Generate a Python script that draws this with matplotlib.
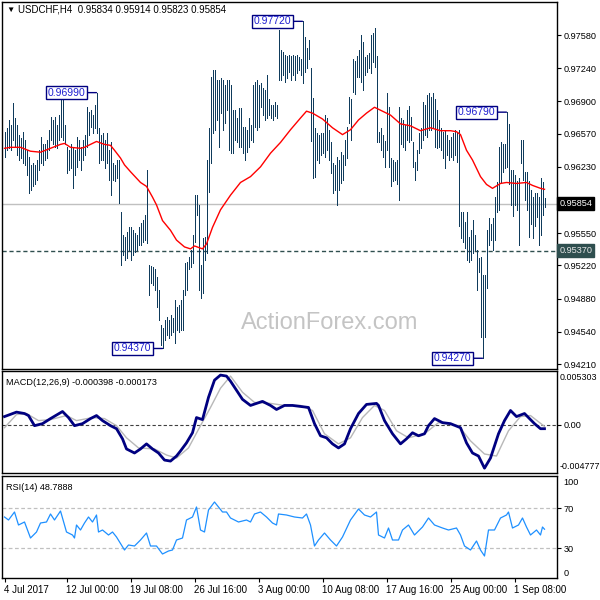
import numpy as np
import matplotlib.pyplot as plt

plt.rcParams['font.family'] = ['Liberation Sans', 'DejaVu Sans']
plt.rcParams['font.size'] = 7

# H4 bars, high / low in pips (price * 10000)
high_pips = [
    9659, 9663, 9671, 9666, 9688, 9673, 9666, 9656, 9653, 9659,
    9651, 9640, 9633, 9625, 9627, 9625, 9630, 9640, 9654, 9646,
    9646, 9651, 9661, 9674, 9671, 9674, 9666, 9676, 9692, 9695,
    9666, 9643, 9640, 9646, 9642, 9640, 9654, 9651, 9643, 9651,
    9656, 9684, 9679, 9681, 9676, 9686, 9699, 9663, 9656, 9658,
    9651, 9658, 9640, 9648, 9627, 9625, 9630, 9630, 9577, 9553,
    9551, 9556, 9561, 9561, 9558, 9555, 9553, 9561, 9566, 9569,
    9574, 9620, 9523, 9521, 9520, 9518, 9510, 9497, 9461, 9458,
    9466, 9469, 9466, 9471, 9468, 9487, 9479, 9482, 9487, 9497,
    9525, 9526, 9531, 9538, 9553, 9594, 9594, 9584, 9523, 9550,
    9551, 9630, 9663, 9715, 9722, 9722, 9712, 9712, 9714, 9712,
    9707, 9712, 9712, 9707, 9681, 9681, 9673, 9683, 9683, 9664,
    9664, 9661, 9673, 9666, 9707, 9710, 9712, 9707, 9709, 9704,
    9702, 9717, 9692, 9686, 9686, 9689, 9686, 9763, 9743, 9741,
    9738, 9736, 9738, 9736, 9738, 9737, 9738, 9735, 9733, 9772,
    9756, 9745, 9753, 9724, 9694, 9663, 9658, 9656, 9658, 9658,
    9676, 9673, 9661, 9648, 9627, 9625, 9633, 9630, 9638, 9635,
    9651, 9664, 9695, 9692, 9733, 9731, 9736, 9743, 9758, 9751,
    9735, 9738, 9740, 9758, 9760, 9765, 9736, 9659, 9663, 9656,
    9649, 9699, 9684, 9632, 9630, 9628, 9630, 9684, 9673, 9671,
    9666, 9681, 9685, 9674, 9648, 9628, 9640, 9658, 9663, 9689,
    9686, 9697, 9699, 9695, 9699, 9692, 9681, 9671, 9663, 9659,
    9661, 9656, 9651, 9654, 9658, 9661, 9659, 9661, 9577, 9577,
    9567, 9577, 9551, 9558, 9569, 9553, 9538, 9530, 9531, 9512,
    9512, 9558, 9571, 9564, 9571, 9592, 9607, 9643, 9648, 9646,
    9646, 9679, 9667, 9620, 9620, 9615, 9609, 9612, 9651, 9651,
    9618, 9618, 9608, 9599, 9592, 9596, 9596, 9592, 9612, 9607,
    9591.4]
low_pips = [
    9633, 9640, 9642, 9640, 9651, 9643, 9635, 9630, 9632, 9627,
    9625, 9615, 9596, 9599, 9603, 9605, 9610, 9620, 9627, 9625,
    9630, 9632, 9640, 9651, 9646, 9643, 9642, 9651, 9654, 9651,
    9646, 9617, 9620, 9622, 9601, 9615, 9623, 9630, 9620, 9630,
    9635, 9643, 9656, 9664, 9658, 9663, 9658, 9627, 9630, 9630,
    9622, 9627, 9610, 9594, 9610, 9608, 9612, 9586, 9523, 9533,
    9528, 9530, 9538, 9528, 9533, 9536, 9538, 9543, 9543, 9546,
    9548, 9545, 9492, 9504, 9502, 9497, 9479, 9466, 9441, 9437,
    9446, 9451, 9448, 9451, 9454, 9443, 9456, 9454, 9456, 9456,
    9492, 9497, 9518, 9520, 9525, 9546, 9574, 9497, 9489, 9494,
    9528, 9535, 9597, 9627, 9658, 9661, 9671, 9643, 9678, 9661,
    9668, 9681, 9640, 9637, 9637, 9651, 9648, 9643, 9643, 9637,
    9630, 9638, 9643, 9651, 9648, 9664, 9661, 9664, 9684, 9676,
    9671, 9673, 9676, 9673, 9671, 9675, 9673, 9712, 9712, 9717,
    9710, 9714, 9720, 9712, 9717, 9712, 9719, 9722, 9717, 9709,
    9720, 9724, 9733, 9649, 9612, 9613, 9630, 9627, 9635, 9637,
    9633, 9640, 9630, 9617, 9596, 9599, 9584, 9599, 9606, 9610,
    9625, 9632, 9668, 9651, 9700, 9698, 9715, 9715, 9710, 9702,
    9717, 9720, 9724, 9719, 9730, 9725, 9648, 9648, 9640, 9633,
    9623, 9640, 9623, 9603, 9608, 9610, 9605, 9589, 9646, 9643,
    9640, 9651, 9648, 9651, 9623, 9610, 9620, 9637, 9642, 9651,
    9656, 9654, 9661, 9661, 9664, 9643, 9642, 9643, 9640, 9632,
    9622, 9635, 9630, 9633, 9630, 9635, 9628, 9562, 9550, 9546,
    9540, 9528, 9526, 9528, 9535, 9538, 9497, 9515, 9449, 9427,
    9449, 9499, 9543, 9548, 9538, 9548, 9577, 9579, 9607, 9618,
    9622, 9623, 9605, 9584, 9573, 9584, 9579, 9543, 9627, 9610,
    9589, 9579, 9551, 9564, 9550, 9562, 9572, 9543, 9553, 9574,
    9582.3]

# red moving average, read at sample bars
ma_idx = [0, 3, 8, 13, 18, 23, 28, 30, 33, 38, 40, 43, 46, 50, 53, 55, 58, 60, 63, 68,
          71, 74, 76, 79, 83, 86, 90, 93, 95, 99, 101, 104, 108, 113, 118, 123, 128, 133, 138, 143,
          148, 151, 154, 159, 164, 169, 173, 177, 181, 185, 189, 193, 198, 203, 208, 213, 218, 223, 226, 228,
          231, 234, 238, 241, 244, 248, 251, 256, 261, 264, 268, 270]
ma_pips = [9642, 9643, 9643, 9639, 9638, 9642, 9646, 9647, 9643, 9642, 9643, 9646, 9649, 9646, 9645, 9640, 9632, 9625, 9618, 9607,
           9603, 9592, 9584, 9568, 9558, 9548, 9541, 9539, 9542, 9539, 9544, 9561, 9579, 9594, 9607, 9613, 9623, 9637, 9648, 9661,
           9673, 9680, 9678, 9672, 9663, 9656, 9661, 9671, 9678, 9684, 9680, 9676, 9667, 9665, 9660, 9663, 9660, 9660, 9659, 9656,
           9640, 9630, 9613, 9605, 9601, 9606, 9607, 9606, 9607, 9604, 9601, 9600]

# MACD(12,26,9), values in 1e-4
macd_idx = [0, 6, 10, 12, 15, 19, 23, 29, 32, 35, 39, 43, 46, 49, 53, 56, 59, 61, 65, 68,
            71, 74, 77, 80, 83, 86, 88, 91, 94, 96, 99, 102, 105, 108, 111, 113, 116, 119, 123, 126,
            129, 133, 136, 140, 144, 148, 152, 155, 158, 161, 164, 167, 170, 173, 177, 181, 186, 187, 190, 194,
            198, 201, 204, 207, 210, 212, 215, 219, 223, 228, 231, 234, 237, 240, 243, 247, 250, 253, 256, 260,
            262, 265, 268, 270]
macd_main = [8, 12.4, 11, 9, -1, 1, 6, 13, 7, -1, 1, 6, 9, 4, -1, -4, -14, -24, -28, -24,
             -19, -24, -28, -35, -36, -31, -26, -18, -8, 7, 5, 27, 44, 49, 48, 43, 34, 25, 19, 21,
             23, 19, 15, 19, 19, 18, 17, 1, -11, -13, -19, -23, -19, -4, 11, 20, 21, 19, 4, -9,
             -19, -14, -8, -11, -9, -1, 6, 2, 1, -3, -18, -28, -31, -43, -33, -9, 4, 14, 8, 11,
             7, 1, -4, -3.98]
sig_idx = [0, 6, 11, 17, 23, 31, 36, 44, 50, 56, 61, 67, 75, 81, 86, 92, 98, 103, 108, 113,
           119, 125, 133, 140, 148, 154, 160, 167, 173, 179, 185, 190, 196, 202, 210, 217, 227, 233, 240, 246,
           252, 258, 263, 270]
macd_sig = [-3, 10, 11, 4, 5, 9, 4, 7, 6, -1, -13, -23, -24, -30, -33, -23, -1, 17, 36, 48,
            32, 22, 21, 19, 19, 14, -9, -19, -13, 7, 19, 14, -6, -13, -9, 2, -1, -16, -29, -31,
            -6, 8, 9, -1.73]

# RSI(14)
rsi_idx = [0, 2, 5, 7, 10, 13, 16, 18, 21, 23, 25, 28, 31, 34, 35, 36, 38, 40, 42, 44,
           46, 47, 49, 52, 54, 56, 60, 62, 65, 68, 71, 73, 76, 79, 82, 84, 86, 89, 91, 94,
           96, 98, 100, 102, 105, 107, 109, 111, 113, 117, 121, 123, 125, 128, 131, 134, 136, 137, 141, 145,
           149, 151, 153, 155, 157, 160, 163, 166, 169, 173, 177, 180, 183, 186, 187, 190, 192, 194, 197, 199,
           202, 205, 209, 212, 215, 219, 222, 226, 228, 230, 233, 236, 238, 240, 242, 245, 248, 251, 252, 254,
           257, 259, 261, 263, 266, 268, 269, 270]
rsi_val = [61, 58, 66, 53, 56, 40, 46, 55, 56, 64, 58, 67, 46, 43, 40, 53, 48, 55, 61, 56,
           63, 46, 48, 43, 46, 41, 28, 33, 32, 38, 45, 32, 32, 24, 27, 28, 38, 40, 58, 61,
           71, 48, 46, 68, 76, 71, 66, 66, 60, 56, 58, 56, 64, 66, 61, 55, 53, 64, 63, 61,
           60, 64, 53, 32, 38, 45, 38, 32, 41, 58, 69, 63, 61, 66, 43, 40, 50, 38, 38, 48,
           53, 43, 51, 60, 53, 50, 48, 50, 43, 32, 28, 37, 28, 22, 48, 48, 60, 63, 66, 50,
           53, 60, 51, 43, 48, 43, 51, 48.7888]

price_ticks = [0.97580, 0.97240, 0.96900, 0.96570, 0.96230, 0.95890,
               0.95550, 0.95220, 0.94880, 0.94540, 0.94210]
date_idx = [0, 31, 63, 95, 127, 159, 191, 223, 255]
date_lbl = ['4 Jul 2017', '12 Jul 00:00', '19 Jul 08:00', '26 Jul 16:00', '3 Aug 00:00',
            '10 Aug 08:00', '17 Aug 16:00', '25 Aug 00:00', '1 Sep 08:00']
last_ohlc = [0.95834, 0.95914, 0.95823, 0.95854]
level = 0.95370
# (bar, 'h' or 'l') marked with a price box
marks = [(46, 'h'), (149, 'h'), (251, 'h'), (79, 'l'), (239, 'l')]

high = np.array(high_pips) / 1e4
low = np.array(low_pips) / 1e4
ma = np.array(ma_pips) / 1e4
macd_m = np.array(macd_main) / 1e4
macd_s = np.array(macd_sig) / 1e4

bar_col = '#0f3b5c'
navy = '#000080'

fig = plt.figure(figsize=(6, 6), dpi=100)
ax = fig.add_axes([2/600, 231/600, 555/600, 367/600])
ax2 = fig.add_axes([2/600, 127/600, 555/600, 102/600])
ax3 = fig.add_axes([2/600, 22/600, 555/600, 102/600])

for a in (ax, ax2, ax3):
    # 2 px per bar, bar centred on a pixel
    a.set_xlim(-1.25, 276.25)
    a.yaxis.tick_right()
    a.tick_params(axis='y', direction='out', length=3, width=0.8, pad=2, labelsize=6.6)
    for s in a.spines.values():
        s.set_color('black')
        s.set_linewidth(1)
    a.set_xticks([])

# ---- price panel
idx = np.arange(len(high))
ax.vlines(idx, low, high, color=bar_col, lw=0.5, antialiased=False)
ax.plot(ma_idx, ma, color='red', lw=1)
ax.axhline(last_ohlc[3], color='#c0c0c0', lw=1, zorder=0)
ax.axhline(level, color='#2f4f4f', lw=1, ls=(0, (3, 2)), zorder=0)
ax.set_ylim(0.94160, 0.97918)
ax.set_yticks(price_ticks)
# the tick next to the current price is covered by the price box
ax.set_yticklabels(['' if abs(p - last_ohlc[3]) < 0.0006 else f'{p:.5f}' for p in price_ticks])

for i, kind in marks:
    p = high[i] if kind == 'h' else low[i]
    ax.annotate(f'{p:.5f}', xy=(i, p), xytext=(i - 5.5, p), ha='right', va='center',
                color='#1f1fd0', fontsize=7.5,
                bbox=dict(boxstyle='square,pad=0.15', fc='white', ec=navy, lw=1),
                arrowprops=dict(arrowstyle='-', color=navy, lw=1, shrinkA=0, shrinkB=0))

yt = ax.get_yaxis_transform()
ax.text(1.004, last_ohlc[3], f'{last_ohlc[3]:.5f}', transform=yt, ha='left', va='center',
        color='white', fontsize=6.6, zorder=6, clip_on=False,
        bbox=dict(boxstyle='square,pad=0.22', fc='black', ec='black'))
ax.text(1.004, level, f'{level:.5f}', transform=yt, ha='left', va='center',
        color='#e8e8e8', fontsize=6.6, zorder=6, clip_on=False,
        bbox=dict(boxstyle='square,pad=0.22', fc='#2f4f4f', ec='#2f4f4f'))
ax.text(0.59, 0.125, 'ActionForex.com', transform=ax.transAxes, fontsize=17,
        color='#c4c4c4', ha='center', va='center', zorder=0)

fig.text(6/600, 1 - 10/600, '\u25bc', fontsize=6, va='center', ha='left')
fig.text(18/600, 1 - 10/600, 'USDCHF,H4  ' + ' '.join(f'{v:.5f}' for v in last_ohlc),
         fontsize=7, va='center', ha='left')

# ---- MACD panel
ax2.set_ylim(-0.004777, 0.005303)
ax2.axhline(0, color='#404040', lw=0.8, ls=(0, (3, 2)))
ax2.plot(sig_idx, macd_s, color='#b8b8b8', lw=1)
ax2.plot(macd_idx, macd_m, color=navy, lw=2)
ax2.set_yticks([0])
ax2.set_yticklabels(['0.00'])
ax2.text(1.005, 0.985, '0.005303', transform=ax2.transAxes, ha='left', va='top', fontsize=6.4)
ax2.text(1.005, 0.02, '-0.004777', transform=ax2.transAxes, ha='left', va='bottom', fontsize=6.4)
ax2.text(0.008, 0.93, f'MACD(12,26,9) {macd_main[-1]/1e4:.6f} {macd_sig[-1]/1e4:.6f}',
         transform=ax2.transAxes, ha='left', va='top', fontsize=6.6)

# ---- RSI panel
ax3.set_ylim(0, 102)
for lv in (70, 30):
    ax3.axhline(lv, color='#c0c0c0', lw=0.9, ls=(0, (3, 2)))
ax3.plot(rsi_idx, rsi_val, color='#1e90ff', lw=0.9)
ax3.set_yticks([70, 30])
ax3.set_yticklabels(['70', '30'])
ax3.text(1.012, 100, '100', transform=ax3.get_yaxis_transform(), ha='left', va='top', fontsize=6.6)
ax3.text(1.012, 0.5, '0', transform=ax3.get_yaxis_transform(), ha='left', va='bottom', fontsize=6.6)
ax3.text(0.008, 0.93, f'RSI(14) {rsi_val[-1]:.4f}', transform=ax3.transAxes,
         ha='left', va='top', fontsize=6.6)
ax3.set_xticks(date_idx)
ax3.set_xticklabels(date_lbl)
ax3.tick_params(axis='x', direction='out', length=3, width=0.8, pad=2, labelsize=7)
for lb in ax3.get_xticklabels():
    lb.set_ha('left')

fig.savefig('out.png', dpi=100)
